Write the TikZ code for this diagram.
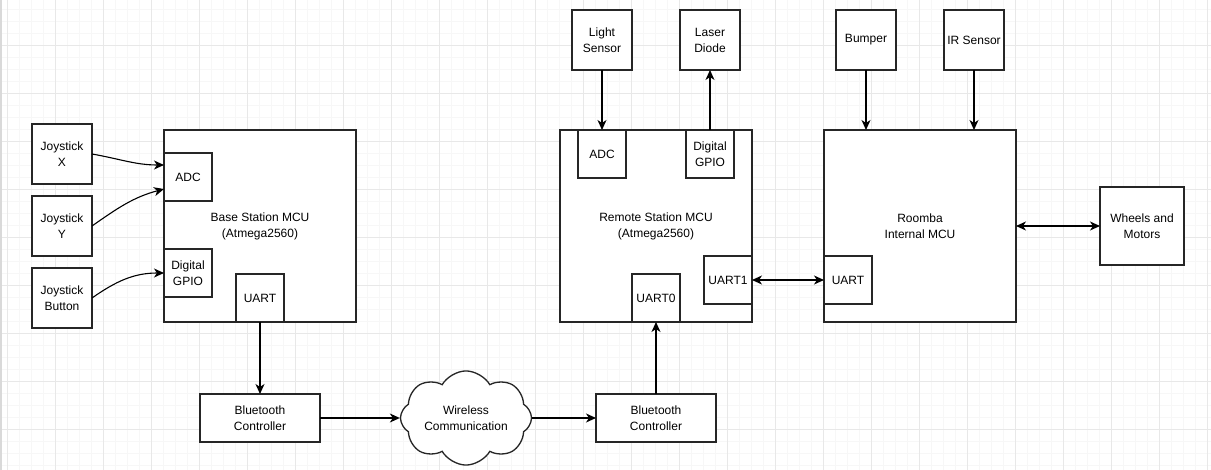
\documentclass[tikz,border=0pt]{standalone}
\usepackage{fontspec}
\setmainfont{Liberation Sans}
\usepackage{tikz}
\usetikzlibrary{arrows.meta}
\usetikzlibrary{shapes.symbols}

\begin{document}
\begin{tikzpicture}[x=1pt,y=-1pt,
  >={Stealth[length=10pt,width=9pt,inset=3pt]},semithick,
  blk/.style={draw=black!85,line width=1.3pt,fill=white,rectangle,inner sep=0pt,outer sep=0pt,align=center,
    font=\fontsize{12pt}{16pt}\selectfont},
  sq/.style={blk,minimum width=48pt,minimum height=48pt},
  dev/.style={blk,minimum width=60pt,minimum height=60pt},
  mcu/.style={blk,minimum width=192pt,minimum height=192pt},
  bt/.style={blk,minimum width=120pt,minimum height=48pt},
  wire/.style={->,black,line width=1.1pt}]
      \useasboundingbox (0,0) rectangle (1211,470);
      % background grid
      \fill[white] (0,0) rectangle (1211,470);
      \foreach \gx in {7.3,19.3,...,1211} \draw[black!3,line width=0.8pt] (\gx,0) -- (\gx,470);
      \foreach \gy in {9.3,21.3,...,470} \draw[black!3,line width=0.8pt] (0,\gy) -- (1211,\gy);
      \foreach \gx in {7.3,55.3,...,1211} \draw[black!9,line width=0.8pt] (\gx,0) -- (\gx,470);
      \foreach \gy in {45.3,93.3,...,470} \draw[black!9,line width=0.8pt] (0,\gy) -- (1211,\gy);
      \fill[black!15] (0,0) rectangle (2,470);

      % base station
      \node [dev] (JX) at (62,154) {Joystick\\X};
      \node [dev] (JY) at (62,226) {Joystick\\Y};
      \node [dev] (JB) at (62,298) {Joystick\\Button};
      \node [mcu] (BS) at (260,226) {Base Station MCU\\(Atmega2560)};
      \node [sq] (BADC) at (188,177) {ADC};
      \node [sq] (BGPIO) at (188,273) {Digital\\GPIO};
      \node [sq] (BUART) at (260,298) {UART};
      \node [bt] (BT1) at (260,418) {Bluetooth\\Controller};

      % wireless link
      \node [draw=black!85,line width=1.3pt,fill=white,cloud,cloud puffs=8,cloud puff arc=120,aspect=1.6,
        minimum width=131pt,minimum height=86pt,inner sep=0pt,align=center,
        font=\fontsize{12pt}{16pt}\selectfont] (WC) at (466,418) {Wireless\\Communication};
      \node [bt] (BT2) at (656,418) {Bluetooth\\Controller};

      % remote station
      \node [mcu] (RS) at (656,226) {Remote Station MCU\\(Atmega2560)};
      \node [sq] (RADC) at (602,154) {ADC};
      \node [sq] (RGPIO) at (710,154) {Digital\\GPIO};
      \node [sq] (RU0) at (656,298) {UART0};
      \node [sq] (RU1) at (728,280) {UART1};
      \node [dev] (LS) at (602,40) {Light\\Sensor};
      \node [dev] (LD) at (710,40) {Laser\\Diode};

      % roomba
      \node [mcu] (RM) at (920,226) {Roomba\\Internal MCU};
      \node [sq] (RMU) at (848,280) {UART};
      \node [dev] (BP) at (866,40) {Bumper};
      \node [dev] (IR) at (974,40) {IR Sensor};
      \node [blk,minimum width=84pt,minimum height=78pt] (WM) at (1142,226) {Wheels and\\Motors};

      \draw[wire] (JX.east) to[out=-10,in=180] ([yshift=12pt]BADC.west);
      \draw[wire] (JY.east) to[out=35,in=195] ([yshift=-12pt]BADC.west);
      \draw[wire] (JB.east) to[out=35,in=180] (BGPIO.west);
      \draw[wire] (BUART.south) -- (BT1.north);
      \draw[wire] (BT1.east) -- (WC.west);
      \draw[wire] (WC.east) -- (BT2.west);
      \draw[wire] (BT2.north) -- (RU0.south);
      \draw[wire] (LS.south) -- (RADC.north);
      \draw[wire] (RGPIO.north) -- (LD.south);
      \draw[wire] (BP.south) -- (BP.south |- RM.north);
      \draw[wire] (IR.south) -- (IR.south |- RM.north);
      \draw[wire,<->] (RU1.east) -- (RMU.west);
      \draw[wire,<->] (RM.east) -- (WM.west);
\end{tikzpicture}
\end{document}
